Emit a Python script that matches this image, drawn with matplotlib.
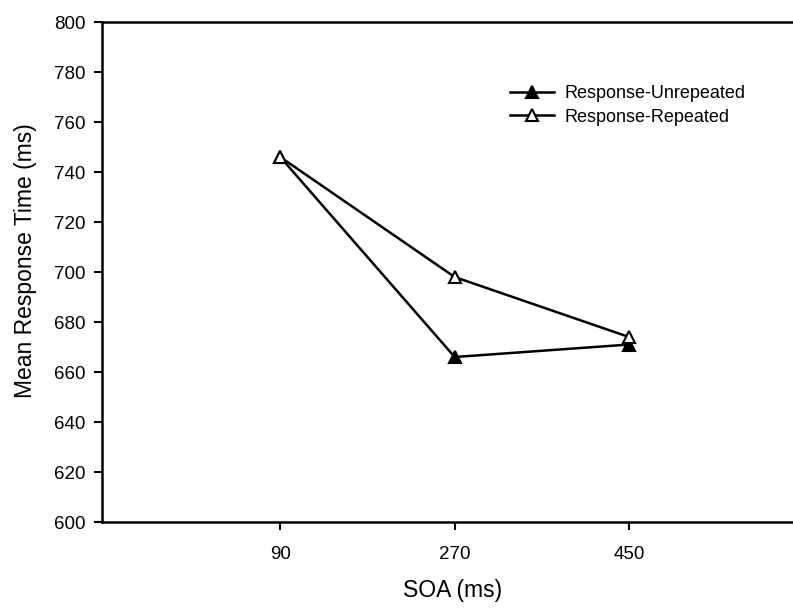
import matplotlib
matplotlib.use("Agg")
import matplotlib.pyplot as plt

# SOA conditions and mean response times (ms)
soa = [90, 270, 450]
rt_unrepeated = [746, 666, 671]
rt_repeated = [746, 698, 674]

y_ticks = [600, 620, 640, 660, 680, 700, 720, 740, 760, 780, 800]

plt.rcParams['font.family'] = ['Liberation Sans', 'DejaVu Sans']

fig = plt.figure(figsize=(7.93, 6.08), dpi=100)
# the axes run past the right edge of the figure, so no right spine shows
ax = fig.add_axes([0.1286, 0.1414, 0.8846, 0.8224])

ax.plot(soa, rt_unrepeated, color='black', lw=1.8, marker='^', ms=9,
        markerfacecolor='black', markeredgecolor='black', mew=1.5,
        label='Response-Unrepeated', clip_on=False, zorder=3)
ax.plot(soa, rt_repeated, color='black', lw=1.8, marker='^', ms=9,
        markerfacecolor='white', markeredgecolor='black', mew=1.5,
        label='Response-Repeated', clip_on=False, zorder=4)

ax.set_xlim(-94, 630)
ax.set_ylim(600, 800)
ax.set_xticks(soa)
ax.set_yticks(y_ticks)

for side in ('left', 'bottom', 'top'):
    ax.spines[side].set_linewidth(1.8)
ax.spines['right'].set_visible(False)

ax.tick_params(axis='both', direction='out', length=6, width=1.5,
               labelsize=13.5, colors='black')
ax.tick_params(axis='y', pad=6)
ax.tick_params(axis='x', pad=11)

ax.set_xlabel('SOA (ms)', fontsize=16.5, labelpad=12)
ax.set_ylabel('Mean Response Time (ms)', fontsize=16.5)
ax.yaxis.set_label_coords(-0.093, 0.522)

ax.legend(loc='center left', bbox_to_anchor=(0.582, 0.833), frameon=False,
          fontsize=13, handlelength=2.4, handletextpad=0.6,
          labelspacing=0.35, borderaxespad=0, borderpad=0)

fig.savefig('out.png', dpi=100)
